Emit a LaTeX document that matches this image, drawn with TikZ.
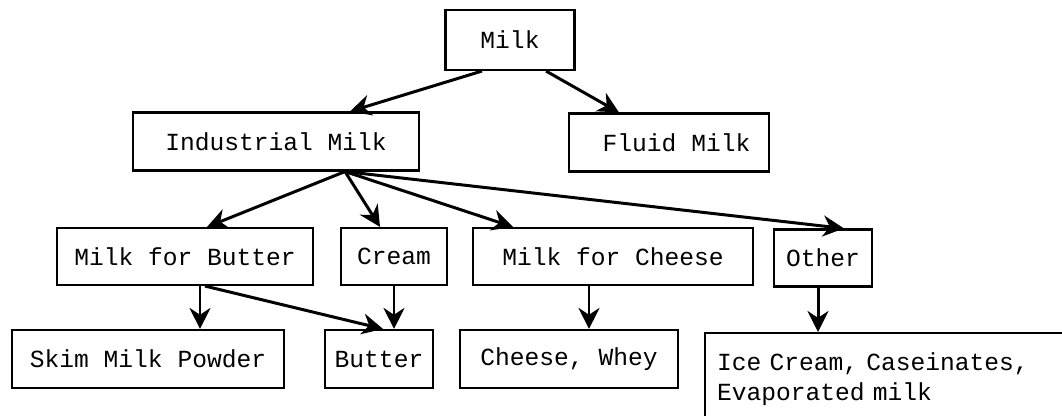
\documentclass[tikz,border=0pt]{standalone}
\usepackage{fontspec}
\setmonofont{Liberation Mono}
\usetikzlibrary{arrows.meta,positioning,calc}
\tikzset{
	>={Stealth[length=4.2mm, width=4.2mm]},
	box/.style={draw, line width=1.2pt, rectangle, minimum height=1.16cm, inner sep=0pt,
		font=\ttfamily\fontsize{14}{17}\selectfont},
	flow/.style={->, line width=1.7pt},
}

\begin{document}
\begin{tikzpicture}
	\useasboundingbox (0,0) rectangle (21.24,-8.32);
	% top and second row
	\node[box, minimum width=2.58cm, minimum height=1.2cm] (milk) at (10.2,-0.8) {Milk};
	\node[box, minimum width=5.72cm] (ind) at (5.52,-2.83) {Industrial Milk};
	\node[box, minimum width=4.0cm] (fluid) at (13.38,-2.85) {\hspace{0.3cm}Fluid Milk};
	% third row
	\node[box, minimum width=5.12cm, minimum height=1.14cm] (mfb) at (3.7,-5.13) {Milk for Butter};
	\node[box, minimum width=2.12cm, minimum height=1.14cm] (cream) at (7.88,-5.13) {Cream};
	\node[box, minimum width=5.6cm, minimum height=1.14cm] (mfc) at (12.26,-5.13) {Milk for Cheese};
	\node[box, minimum width=1.96cm, minimum height=1.14cm] (other) at (16.46,-5.16) {Other};
	% bottom row
	\node[box, minimum width=5.44cm] (skim) at (2.96,-7.18) {Skim Milk Powder};
	\node[box, minimum width=2.16cm] (butter) at (7.58,-7.18) {Butter};
	\node[box, minimum width=4.36cm] (cw) at (11.38,-7.18) {Cheese, Whey};
	\node[box, anchor=north west, text width=7.6cm, inner xsep=0.24cm, align=left,
		minimum height=1.84cm] (ice) at (14.08,-6.64) {Ice Cream, Caseinates,\\Evaporated milk};

	\coordinate (fork) at ([xshift=1.38cm]ind.south);

	\draw[flow] ([xshift=-0.56cm]milk.south) -- ([xshift=1.48cm]ind.north);
	\draw[flow] ([xshift=0.72cm]milk.south) -- ([xshift=-1.0cm]fluid.north);
	\draw[flow] (fork) -- ([xshift=0.44cm]mfb.north);
	\draw[flow] (fork) -- ([xshift=-0.28cm]cream.north);
	\draw[flow] (fork) -- ([xshift=-2.0cm]mfc.north);
	\draw[flow] (fork) -- ([xshift=0.42cm]other.north);
	\draw[flow] ([xshift=0.3cm]mfb.south) -- ([xshift=0.3cm]mfb.south |- skim.north);
	\draw[flow] ([xshift=0.4cm]mfb.south) -- ([xshift=0.08cm]butter.north);
	\draw[flow] (cream.south) -- (cream.south |- butter.north);
	\draw[flow] ([xshift=-0.48cm]mfc.south) -- ([xshift=-0.48cm]mfc.south |- cw.north);
	\draw[flow] ([xshift=-0.1cm]other.south) -- ([xshift=-0.1cm]other.south |- ice.north);
\end{tikzpicture}
\end{document}
